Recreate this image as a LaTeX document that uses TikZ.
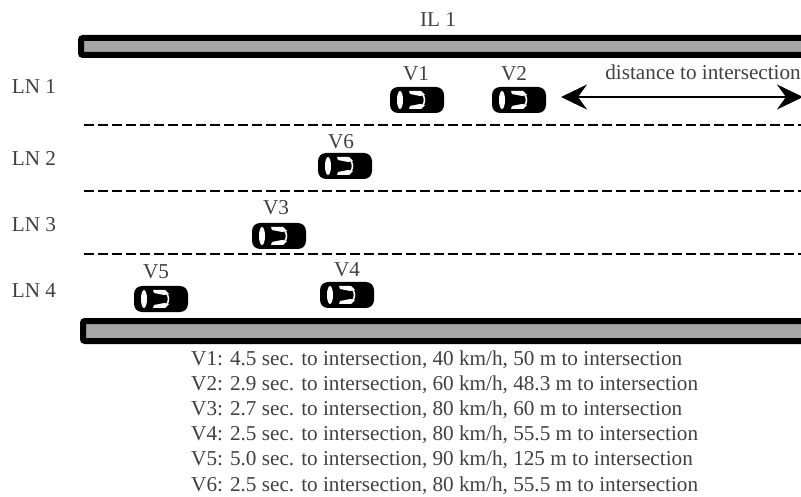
\documentclass[tikz,border=0pt]{standalone}
\usepackage{fontspec}
\setmainfont{Liberation Serif}
\usetikzlibrary{arrows.meta}
\tikzset{
  lbl/.style = {inner sep=0pt, text=black!75, font=\fontsize{21.2}{24}\selectfont},
  road/.style = {draw=black, line width=6pt, fill=black!35, rounded corners=2pt},
  lane/.style = {line width=2.4pt, dash pattern=on 10pt off 4pt},
  dist/.style = {line width=2.4pt, {Stealth[length=26pt,width=25pt,inset=9pt]}-{Stealth[length=26pt,width=25pt,inset=9pt]}},
  car/.pic = {
    \fill[black, rounded corners=8pt] (-27,-13) rectangle (27,13);
    \fill[white] (-17,0) ellipse (3pt and 9pt);
    \fill[white] (-8,-9) -- (4,-9) -- (8,-5) -- (3,-4) -- (-7,-6) -- cycle;
    \fill[white] (-8,9) -- (4,9) -- (8,5) -- (3,4) -- (-7,6) -- cycle;
    \draw[white, line width=1.6pt] (6,-5) .. controls (8,-2) and (8,2) .. (6,5);
  }
}
\begin{document}
\begin{tikzpicture}[x=1pt,y=-1pt]
\useasboundingbox (0,0) rectangle (801,497);
\begin{scope}
\clip (0,0) rectangle (801,497);
% roads
\draw[road] (81,38) rectangle (815,55);
\draw[road] (83,321) rectangle (815,341);
% lane dividers
\draw[lane] (84,125) -- (801,125);
\draw[lane] (84,191) -- (801,191);
\draw[lane] (84,254) -- (801,254);
% distance arrow
\coordinate (arrL) at (561,97);
\coordinate (arrR) at (803,97);
\draw[dist] (arrL) -- (arrR);
\end{scope}
\node[lbl] (il) at (438,20) {IL 1};
\node[lbl] (ln1) at (34,87) {LN 1};
\node[lbl] (ln2) at (34,158) {LN 2};
\node[lbl] (ln3) at (34,225) {LN 3};
\node[lbl] (ln4) at (34,291) {LN 4};
\node[lbl, anchor=east] (dist) at (801,72) {distance to intersection};
% cars
\pic at (417,100) {car};
\pic at (519,100) {car};
\pic at (345,166) {car};
\pic at (279,236) {car};
\pic at (161,299) {car};
\pic at (347,295) {car};
\node[lbl] (v1) at (416,74) {V1};
\node[lbl] (v2) at (514,74) {V2};
\node[lbl] (v6) at (341,142) {V6};
\node[lbl] (v3) at (276,208) {V3};
\node[lbl] (v5) at (156,272) {V5};
\node[lbl] (v4) at (347,270) {V4};
% legend
\foreach \y/\name/\txt in {
  360/t1/{V1: 4.5 sec. to intersection, 40 km/h, 50 m to intersection},
  385/t2/{V2: 2.9 sec. to intersection, 60 km/h, 48.3 m to intersection},
  410/t3/{V3: 2.7 sec. to intersection, 80 km/h, 60 m to intersection},
  435/t4/{V4: 2.5 sec. to intersection, 80 km/h, 55.5 m to intersection},
  460/t5/{V5: 5.0 sec. to intersection, 90 km/h, 125 m to intersection},
  486/t6/{V6: 2.5 sec. to intersection, 80 km/h, 55.5 m to intersection}}
  \node[lbl, anchor=west] (\name) at (191,\y) {\txt};
\end{tikzpicture}
\end{document}
